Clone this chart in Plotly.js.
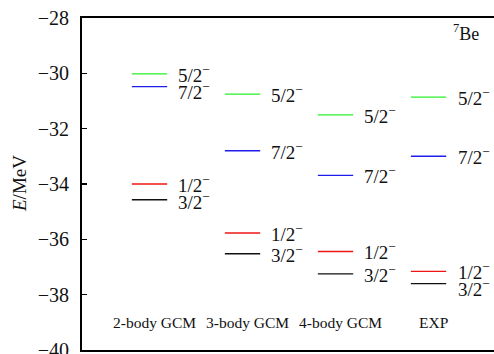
<!DOCTYPE html>
<html>
<head>
<meta charset="utf-8">
<script src="https://cdn.plot.ly/plotly-3.0.1.min.js"></script>
<style>html,body{margin:0;padding:0;background:#fff;}#chart{width:494px;height:354px;}</style>
</head>
<body>
<div id="chart"></div>
<script>
// ---- data ----
const models = ["2-body GCM", "3-body GCM", "4-body GCM", "EXP"];
const states = ["5/2", "7/2", "1/2", "3/2"];
const energies52 = [-30.02, -30.75, -31.50, -30.86];
const energies72 = [-30.48, -32.80, -33.69, -33.00];
const energies12 = [-34.00, -35.77, -36.44, -37.16];
const energies32 = [-34.57, -36.52, -37.25, -37.60];
const yTicks = [-40, -38, -36, -34, -32, -30, -28];
const nucleus = "Be";
const massNumber = "7";

// ---- styling ----
const colors = ["rgb(40,240,40)", "rgb(30,30,235)", "rgb(240,20,20)", "#111111"];
const allE = [energies52, energies72, energies12, energies32];
const halfW = 0.19;
const FONT = "Liberation Serif";
const pxPerUnitY = 332 / 12;
const minGapPx = 17;

const traces = [];
const annotations = [];
states.forEach((s, si) => {
  models.forEach((m, mi) => {
    const x0 = mi + 1;
    traces.push({
      x: [x0 - halfW, x0 + halfW],
      y: [allE[si][mi], allE[si][mi]],
      mode: "lines",
      line: {color: colors[si], width: 1.4},
      hoverinfo: "skip",
      showlegend: false
    });
  });
});

// labels with overlap avoidance
models.forEach((m, mi) => {
  const lv = states.map((s, si) => ({s: s, e: allE[si][mi]}));
  lv.sort((a, b) => b.e - a.e);
  let prevPix = null;
  lv.forEach(l => {
    let pix = -l.e * pxPerUnitY;
    let shift = 0;
    if (prevPix !== null && pix - prevPix < minGapPx) {
      shift = minGapPx - (pix - prevPix);
      pix += shift;
    }
    prevPix = pix;
    annotations.push({
      x: mi + 1 + halfW + 0.1, y: l.e, xref: "x", yref: "y",
      text: l.s + "<sup>−</sup>", showarrow: false,
      xanchor: "left", yanchor: "middle", yshift: -shift,
      font: {family: FONT, size: 19, color: "#111"}
    });
  });
  annotations.push({
    x: mi + 1 + 0.05, y: -39.02, xref: "x", yref: "y",
    text: m, showarrow: false, xanchor: "center", yanchor: "middle",
    font: {family: FONT, size: 15.5, color: "#111"}
  });
});

annotations.push({
  x: 0.968, y: 0.955, xref: "paper", yref: "paper",
  text: "<sup>" + massNumber + "</sup>" + nucleus, showarrow: false,
  xanchor: "right", yanchor: "middle",
  font: {family: FONT, size: 18, color: "#111"}
});
annotations.push({
  x: (19 - 82) / 412, y: 0.5, xref: "paper", yref: "paper",
  text: "<i>E</i>/MeV", showarrow: false, textangle: -90,
  xanchor: "center", yanchor: "middle",
  font: {family: FONT, size: 19, color: "#111"}
});

const layout = {
  width: 494, height: 354,
  margin: {l: 82, r: 0, t: 18, b: 4},
  paper_bgcolor: "#fff", plot_bgcolor: "#fff",
  font: {family: FONT},
  showlegend: false,
  xaxis: {
    range: [0.274, 4.704], showgrid: false, zeroline: false,
    showticklabels: false, ticks: "",
    showline: true, mirror: true, linecolor: "#000", linewidth: 2
  },
  yaxis: {
    range: [-40.001, -28], tickmode: "array", tickvals: yTicks,
    ticktext: yTicks.map(v => "−" + Math.abs(v)),
    showgrid: false, zeroline: false,
    ticks: "inside", ticklen: 5, tickwidth: 1.5, tickcolor: "#000",
    showline: true, linecolor: "#000", linewidth: 2,
    ticklabelstandoff: 7, ticklabeloverflow: "allow",
    tickfont: {family: FONT, size: 20, color: "#111"}
  },
  annotations: annotations
};

Plotly.newPlot("chart", traces, layout, {staticPlot: true, displayModeBar: false});
</script>
</body>
</html>
